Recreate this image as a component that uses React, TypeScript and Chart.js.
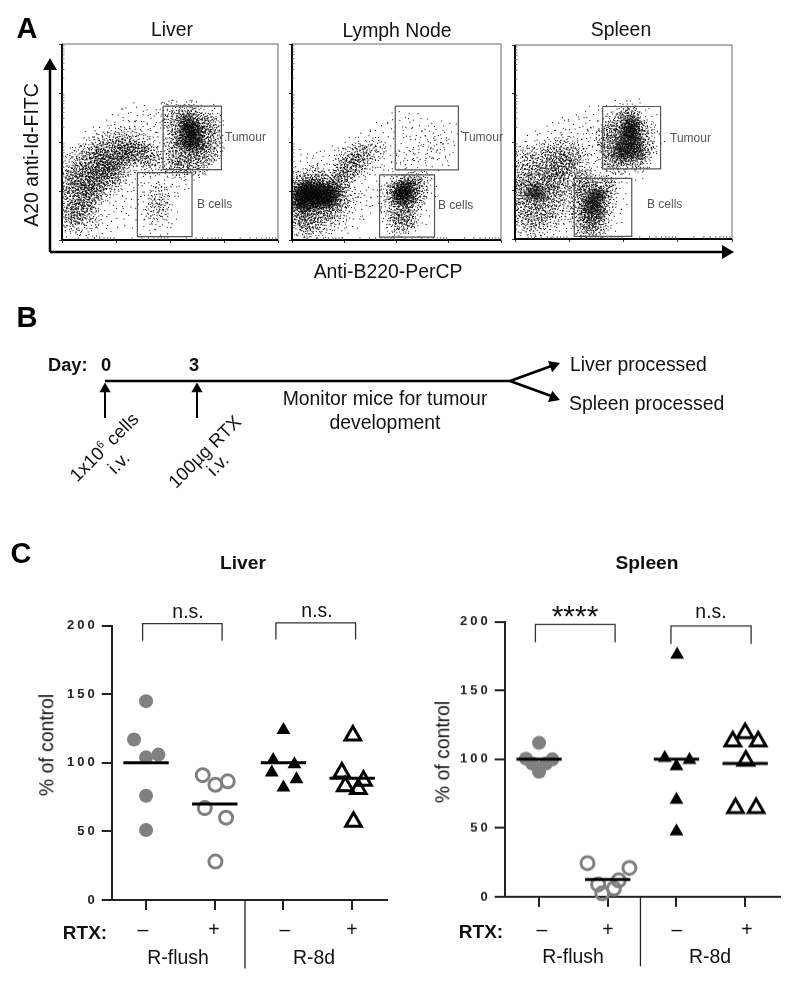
import React, { useEffect, useRef } from "react";
import { Chart, registerables } from "chart.js";

Chart.register(...registerables);

const FONT = '"Liberation Sans", Arial, sans-serif';

// ---------- Panel A: flow cytometry, axes in % of the plot box ----------
const decadeTicks = [0, 25, 50, 75, 100];
const minorTicks = [7.5, 12, 15, 17.5, 19.5, 21, 22.5, 24, 32.5, 37, 40, 42.5, 44.5, 46, 47.5, 49, 57.5, 62, 65, 67.5, 69.5, 71, 72.5, 74, 82.5, 87, 90, 92.5, 94.5, 96, 97.5, 99];

const liverLight = [[4,10],[10,8],[18,8],[25,12],[30,20],[2,38],[7,42],[14,50],[22,55],[28,60],[34,64],[40,60],[32,52],[40,52],[45,58],[45,48],[27,28],[33,34],[38,30],[50,32],[58,36],[70,50],[68,62],[60,65],[50,65],[3,5],[12,3],[42,24],[44,14],[45,8],[47,22],[41,17],[48,12],[38,8],[52,28]];
const liverMid = [[10,15],[14,20],[18,24],[22,28],[26,33],[30,38],[3,12],[5,38],[9,43],[14,47],[19,50],[25,52],[30,52],[36,50],[2,26],[6,8],[13,12],[42,38],[45,22],[44,16],[70,46],[50,38],[50,66],[60,66],[70,60]];
const liverDense = [[3,20],[4,30],[6,14],[7,24],[8,33],[9,18],[10,28],[11,38],[12,22],[13,31],[14,42],[15,26],[16,36],[17,30],[18,40],[19,34],[20,45],[21,37],[23,41],[24,35],[25,46],[27,42],[29,47],[31,44],[34,45],[37,44],[41,43],[52,50],[52,60],[54,44],[56,55],[58,63],[58,40],[60,54],[62,60],[62,46],[64,52],[67,58],[67,44],[69,52],[55,38],[63,38]];
const liverCore = [[58,55],[60,50],[62,55],[58,60],[62,48],[56,50],[60,57]];
const liverGateTumour = [[46.8,68.3],[73.8,68.3],[73.8,35.9],[46.8,35.9],[46.8,68.3]];
const liverGateB = [[34.9,34.4],[60.2,34.4],[60.2,1.7],[34.9,1.7],[34.9,34.4]];

const nodeLight = [[3,3],[8,5],[14,7],[20,6],[27,10],[33,18],[40,22],[30,28],[5,40],[12,38],[20,42],[28,46],[36,50],[43,54],[38,42],[45,42],[52,60],[60,58],[68,52],[74,55],[55,46],[63,44],[70,42],[58,38],[52,8],[55,4],[48,12],[60,14],[64,26],[45,30],[53,40],[65,50],[72,46]];
const nodeMid = [[4,7],[10,6],[16,9],[22,13],[27,22],[25,40],[30,44],[34,38],[40,46],[47,24],[47,16],[62,30],[56,12],[50,7]];
const nodeDense = [[2,14],[2,22],[2,30],[5,12],[6,20],[6,28],[9,10],[10,18],[10,26],[11,32],[14,14],[14,22],[14,29],[18,16],[18,24],[18,30],[22,20],[22,28],[25,32],[26,36],[29,38],[33,43],[50,24],[52,28],[53,20],[55,24],[57,29],[58,20],[52,14],[54,10],[60,25]];
const nodeCore = [[3,20],[5,22],[6,18],[8,24],[6,26],[9,20],[9,26],[12,19],[12,22],[12,25],[15,22],[15,25],[18,20],[18,23],[20,25],[3,24],[53,25],[55,27],[52,22],[55,22]];
const nodeGateTumour = [[49.4,68.3],[79.6,68.3],[79.6,35.8],[49.4,35.8],[49.4,68.3]];
const nodeGateB = [[41.9,33.2],[68.2,33.2],[68.2,1.5],[41.9,1.5],[41.9,33.2]];

const spleenLight = [[3,4],[8,4],[14,3],[20,5],[24,12],[26,22],[3,44],[9,48],[16,52],[22,56],[29,58],[35,62],[30,48],[36,50],[38,42],[32,38],[25,46],[32,28],[42,36],[62,50],[60,62],[40,55],[55,65],[46,65],[46,30],[46,20],[44,10],[32,2],[38,3],[55,36],[44,33]];
const spleenMid = [[4,8],[10,7],[16,10],[21,15],[24,24],[5,42],[11,44],[17,46],[23,48],[28,44],[30,36],[26,32],[30,10],[34,10],[40,10],[42,18],[30,18],[33,26],[42,26],[44,42],[48,39],[58,40],[60,56],[45,60],[52,65],[60,46]];
const spleenDense = [[2,14],[2,24],[3,33],[6,18],[6,28],[7,38],[10,12],[10,22],[11,32],[14,16],[14,26],[15,36],[17,22],[18,32],[20,28],[21,38],[23,36],[25,42],[18,42],[30,24],[31,14],[33,6],[35,24],[36,14],[37,6],[39,20],[41,27],[32,30],[44,48],[46,42],[46,55],[50,44],[50,60],[55,42],[56,56],[59,48],[53,62],[42,52]];
const spleenCore = [[8,24],[11,25],[36,20],[38,22],[35,16],[38,14],[50,50],[53,52],[55,50],[51,55],[54,56],[52,46],[56,45],[49,45],[54,59]];
const spleenGateTumour = [[40.4,68.3],[67.1,68.3],[67.1,36.1],[40.4,36.1],[40.4,68.3]];
const spleenGateB = [[27.3,31.2],[53.8,31.2],[53.8,1.4],[27.3,1.4],[27.3,31.2]];

// speckle stamps: one stamped data point stands for a small group of events
const denseOffsets = [[-1,0],[2,1],[-3,-2],[4,-3],[0,4],[-5,2],[6,0],[1,-5],[-2,6],[3,5],[-6,-4],[7,4],[-7,1],[5,-6],[-4,-7],[0,-8],[8,-2],[-8,5],[2,8],[-3,9],[6,7],[9,2],[-9,-2],[4,-9],[-6,8],[-10,3],[10,-4],[-1,-10],[7,-8],[-8,-7],[3,11],[-4,-11],[11,1],[-11,-1],[9,7],[1,2],[-2,-3],[3,-1],[-1,3],[5,3]];
const lightOffsets = [[-2,1],[3,-4],[6,3],[-7,-3],[0,8],[-4,-9],[9,-7],[-10,5],[11,2],[-12,-5],[5,11],[-6,11],[10,-11],[1,-13]];

// ---------- Panel C: % of control ----------
const liverFlushMinus = [[1,145],[0.825,117],[1,104],[1.18,106],[1,76],[1,51]];
const liverFlushPlus = [[1.825,91],[2.01,84],[2.19,86.5],[1.855,67],[2.165,60],[2.01,28]];
const liver8dMinus = [[3,124],[2.85,102],[3.16,99],[2.83,93],[3.19,88],[3,82]];
const liver8dPlus = [[4.01,120],[3.85,93],[4.165,87],[3.9,83],[4.09,81],[4.02,57]];
const liverMedians = [100, 70, 100, 88.7];
const liverBrackets = [[[0.95,189],[0.95,201.5],[2.107,201.5],[2.107,189]], [[2.89,190],[2.89,202],[4.05,202],[4.05,190]]];
const liverDivider = [[2.44,0],[2.44,-50]];

const spleenFlushMinus = [[1,112],[0.81,100.5],[1.195,100],[0.9,97],[1.1,97],[1,91]];
const spleenFlushPlus = [[1.705,24.5],[2.315,21],[2.16,12],[1.86,9],[2.09,6],[1.92,2.5]];
const spleen8dMinus = [[3.01,176],[2.83,101],[3.19,99.5],[3,95],[3,70.5],[3,47.5]];
const spleen8dPlus = [[4,119],[3.82,113],[4.19,113],[4.01,99],[3.86,64.5],[4.16,64.5]];
const spleenMedians = [100, 12.6, 100, 97];
const spleenBrackets = [[[0.947,185],[0.947,198],[2.107,198],[2.107,185]], [[2.92,184],[2.92,197],[4.087,197],[4.087,184]]];
const spleenDivider = [[2.476,0],[2.476,-50.5]];

const medianHalfWidth = 0.33;
const groupCentres = [1, 2, 3, 4];
const percentTicks = [0, 50, 100, 150, 200];

// ---------- Diagram lines (page units) ----------
const arrowUp = [[50,252],[50,68]];
const arrowRight = [[50,252],[724,252]];
const arrowUpHead = [[50,66]];
const arrowRightHead = [[726,252]];
const timelineMain = [[105,381],[510,381]];
const branchLiver = [[510,381],[554,365]];
const branchSpleen = [[510,381],[554,397]];
const branchLiverHead = [[553.4,365.4]];
const branchSpleenHead = [[553.4,397.6]];
const day0Arrow = [[105,418],[105,392]];
const day3Arrow = [[197,418],[197,392]];
const dayHeads = [[105,389],[197,389]];

const xy = (rows: number[][]) => rows.map(([x, y]) => ({ x, y }));

function makeTile(offsets: number[][], scale: number) {
  const c = document.createElement("canvas");
  c.width = c.height = 30;
  const g = c.getContext("2d")!;
  g.fillStyle = "#000";
  offsets.forEach(([a, b]) => g.fillRect(15 + a * scale, 15 + b * scale, 1, 1));
  return c;
}

const line = (rows: number[][], color: string, width: number, extra: any = {}) => ({
  type: "scatter", data: xy(rows), showLine: true, borderColor: color, borderWidth: width,
  pointRadius: 0, clip: false, borderCapStyle: "butt", borderJoinStyle: "miter", ...extra,
});
const head = (rows: number[][], rotation: number | number[], radius = 7) => ({
  type: "scatter", data: xy(rows), pointStyle: "triangle", pointRadius: radius,
  pointRotation: rotation, backgroundColor: "#000", borderColor: "#000", pointBorderWidth: 0, clip: false,
});

const minorTickPlugin = {
  id: "minorTicks",
  afterDraw(chart: any) {
    const { ctx, chartArea: a, scales } = chart;
    ctx.save();
    ctx.strokeStyle = "#666";
    ctx.lineWidth = 1;
    ctx.strokeRect(a.left, a.top, a.right - a.left, a.bottom - a.top);
    ctx.strokeStyle = "#000";
    ctx.lineWidth = 2;
    ctx.beginPath();
    ctx.moveTo(a.left, a.top); ctx.lineTo(a.left, a.bottom); ctx.lineTo(a.right, a.bottom);
    ctx.stroke();
    ctx.strokeStyle = "#555";
    ctx.lineWidth = 0.8;
    ctx.beginPath();
    minorTicks.forEach((v) => {
      const px = scales.x.getPixelForValue(v), py = scales.y.getPixelForValue(v);
      ctx.moveTo(px, a.bottom); ctx.lineTo(px, a.bottom - 3);
      ctx.moveTo(a.left, py); ctx.lineTo(a.left + 2.5, py);
    });
    ctx.stroke();
    ctx.restore();
  },
};

const spacingPlugin = {
  id: "tickSpacing",
  beforeDraw(chart: any) { chart.ctx.letterSpacing = "3px"; },
};

function flowConfig(light: number[][], mid: number[][], dense: number[][], core: number[][], gates: number[][][], tiles: any) {
  const stampDs = (rows: number[][], tile: any, factor: number) => ({
    type: "scatter", data: xy(rows), pointStyle: tile, pointRadius: 15,
    pointRotation: rows.map((_, i) => (i * factor) % 360),
  });
  return {
    type: "scatter",
    data: {
      datasets: [
        ...gates.map((g) => line(g, "#555", 1.2)),
        stampDs(core, tiles.core, 71), stampDs(core, tiles.core, 143), stampDs(core, tiles.dense, 29),
        stampDs(dense, tiles.dense, 67), stampDs(dense, tiles.dense, 211),
        stampDs(mid, tiles.dense, 113),
        stampDs(light, tiles.light, 97),
      ],
    },
    options: {
      animation: false, responsive: false, events: [],
      layout: { autoPadding: false, padding: { top: 5, right: 5, left: 0, bottom: 0 } },
      plugins: { legend: { display: false }, tooltip: { enabled: false }, title: { display: false } },
      scales: {
        x: {
          type: "linear", min: 0, max: 100,
          afterBuildTicks: (s: any) => { s.ticks = decadeTicks.map((value) => ({ value })); },
          afterFit: (s: any) => { s.height = 10; },
          ticks: { display: false, autoSkip: false },
          grid: { drawOnChartArea: false, tickLength: 3, color: "#333" },
          border: { display: false },
        },
        y: {
          type: "linear", min: 0, max: 100,
          afterBuildTicks: (s: any) => { s.ticks = decadeTicks.map((value) => ({ value })); },
          afterFit: (s: any) => { s.width = 10; },
          ticks: { display: false, autoSkip: false },
          grid: { drawOnChartArea: false, tickLength: 3, color: "#333" },
          border: { display: false },
        },
      },
    },
    plugins: [minorTickPlugin],
  };
}

function percentConfig(a: number[][], b: number[][], c: number[][], d: number[][], medians: number[], brackets: number[][][], divider: number[][], yWidth: number, top: number, right: number) {
  const grey = "#808080";
  return {
    type: "scatter",
    data: {
      datasets: [
        ...medians.map((m, i) => line([[groupCentres[i] - medianHalfWidth, m], [groupCentres[i] + medianHalfWidth, m]], "#000", 3)),
        ...brackets.map((br) => line(br, "#333", 1.3)),
        line(divider, "#222", 1.3),
        { data: xy(a), pointStyle: "circle", pointRadius: 7, backgroundColor: grey, pointBorderWidth: 0, clip: false },
        { data: xy(b), pointStyle: "circle", pointRadius: 6.5, backgroundColor: "rgba(0,0,0,0)", borderColor: grey, pointBorderWidth: 3, clip: false },
        { data: xy(c), pointStyle: "triangle", pointRadius: 8, backgroundColor: "#000", pointBorderWidth: 0, clip: false },
        { data: xy(d), pointStyle: "triangle", pointRadius: 9, backgroundColor: "rgba(0,0,0,0)", borderColor: "#000", pointBorderWidth: 3, clip: false },
      ],
    },
    options: {
      animation: false, responsive: false, events: [],
      layout: { autoPadding: false, padding: { top, right, left: 0, bottom: 0 } },
      plugins: { legend: { display: false }, tooltip: { enabled: false }, title: { display: false } },
      scales: {
        x: {
          type: "linear", min: 0.5, max: 4.5,
          afterBuildTicks: (s: any) => { s.ticks = groupCentres.map((value) => ({ value })); },
          afterFit: (s: any) => { s.height = 80; },
          ticks: { display: false, autoSkip: false },
          grid: { drawOnChartArea: false, tickLength: 10, color: "#222", lineWidth: 2 },
          border: { color: "#222", width: 2 },
        },
        y: {
          type: "linear", min: 0, max: 200,
          afterBuildTicks: (s: any) => { s.ticks = percentTicks.map((value) => ({ value })); },
          afterFit: (s: any) => { s.width = yWidth; },
          ticks: { autoSkip: false, color: "#222", padding: 4, font: { family: FONT, size: 13, weight: "bold" } },
          grid: { drawOnChartArea: false, tickLength: 10, color: "#222", lineWidth: 2 },
          border: { color: "#222", width: 2 },
        },
      },
    },
    plugins: [spacingPlugin],
  };
}

function diagramConfig() {
  return {
    type: "scatter",
    data: {
      datasets: [
        line(arrowUp, "#000", 2.5), line(arrowRight, "#000", 2.5),
        head(arrowUpHead, 0, 8), head(arrowRightHead, 90, 8),
        line(timelineMain, "#000", 2.5), line(branchLiver, "#000", 2.5), line(branchSpleen, "#000", 2.5),
        head(branchLiverHead, 70, 7), head(branchSpleenHead, 110, 7),
        line(day0Arrow, "#000", 2), line(day3Arrow, "#000", 2), head(dayHeads, 0, 6.5),
      ],
    },
    options: {
      animation: false, responsive: false, events: [],
      layout: { autoPadding: false, padding: 0 },
      plugins: { legend: { display: false }, tooltip: { enabled: false }, title: { display: false } },
      scales: {
        x: { type: "linear", min: 0, max: 800, display: false },
        y: { type: "linear", min: 0, max: 989, reverse: true, display: false },
      },
    },
  };
}

const T = ({ x, y, size = 19.4, bold = false, color = "#111", rotate = 0, align = "center", children }: any) => (
  <div
    style={{
      position: "absolute", left: x, top: y, whiteSpace: "nowrap", fontFamily: FONT, fontSize: size,
      fontWeight: bold ? 700 : 400, color, lineHeight: 1,
      transform: `translate(${align === "left" ? "0" : "-50%"},-50%) rotate(${rotate}deg)`,
    }}
  >
    {children}
  </div>
);

const canvasStyle = (left: number, top: number, w: number, h: number): React.CSSProperties => ({
  position: "absolute", left, top, width: w, height: h, display: "block",
});

// left, top, width, height of each canvas on the page
const flowBoxes = [
  [51.7, 38.5, 231.3, 211.5],
  [281.7, 38.5, 224.3, 211.5],
  [504.7, 40, 232, 209],
];
const pctBoxes = [
  [0, 600, 400, 380],
  [393, 596, 400, 380.7],
];

export default function App() {
  const diagram = useRef<HTMLCanvasElement>(null);
  const flow = [useRef<HTMLCanvasElement>(null), useRef<HTMLCanvasElement>(null), useRef<HTMLCanvasElement>(null)];
  const pct = [useRef<HTMLCanvasElement>(null), useRef<HTMLCanvasElement>(null)];

  useEffect(() => {
    const tiles = { dense: makeTile(denseOffsets, 1), core: makeTile(denseOffsets, 0.7), light: makeTile(lightOffsets, 1) };
    const charts: Chart[] = [];
    charts.push(new Chart(diagram.current!, diagramConfig() as any));
    const flowData = [
      [liverLight, liverMid, liverDense, liverCore, [liverGateTumour, liverGateB]],
      [nodeLight, nodeMid, nodeDense, nodeCore, [nodeGateTumour, nodeGateB]],
      [spleenLight, spleenMid, spleenDense, spleenCore, [spleenGateTumour, spleenGateB]],
    ] as any[];
    flow.forEach((r, i) => {
      const [l, m, de, co, ga] = flowData[i];
      charts.push(new Chart(r.current!, flowConfig(l, m, de, co, ga, tiles) as any));
    });
    charts.push(new Chart(pct[0].current!, percentConfig(liverFlushMinus, liverFlushPlus, liver8dMinus, liver8dPlus, liverMedians, liverBrackets, liverDivider, 111.7, 25.7, 13.5) as any));
    charts.push(new Chart(pct[1].current!, percentConfig(spleenFlushMinus, spleenFlushPlus, spleen8dMinus, spleen8dPlus, spleenMedians, spleenBrackets, spleenDivider, 111.7, 25.7, 13.5) as any));
    return () => charts.forEach((c) => c.destroy());
  }, []);

  return (
    <div style={{ position: "absolute", left: 0, top: 0, width: 800, height: 989, overflow: "hidden", background: "#fff" }}>
      <canvas ref={diagram} width={800} height={989} style={canvasStyle(0, 0, 800, 989)} />
      {flow.map((r, i) => {
        const [l, t, w, h] = flowBoxes[i];
        return <canvas key={i} ref={r} width={w} height={h} style={canvasStyle(l, t, w, h)} />;
      })}
      {pct.map((r, i) => {
        const [l, t, w, h] = pctBoxes[i];
        return <canvas key={i} ref={r} width={w} height={h} style={canvasStyle(l, t, w, h)} />;
      })}

      <T x={27} y={28} size={29} bold color="#000">A</T>
      <T x={172} y={30}>Liver</T>
      <T x={397} y={31}>Lymph Node</T>
      <T x={621} y={30}>Spleen</T>
      <T x={32} y={155} rotate={-90}>A20 anti-Id-FITC</T>
      <T x={388} y={272}>Anti-B220-PerCP</T>
      <T x={225} y={137} size={12} color="#555" align="left">Tumour</T>
      <T x={197} y={204} size={12} color="#555" align="left">B cells</T>
      <T x={462} y={137} size={12} color="#555" align="left">Tumour</T>
      <T x={438} y={205} size={12} color="#555" align="left">B cells</T>
      <T x={670} y={138} size={12} color="#555" align="left">Tumour</T>
      <T x={647} y={204} size={12} color="#555" align="left">B cells</T>

      <T x={27} y={317} size={29} bold color="#000">B</T>
      <T x={48} y={365} size={18.3} bold align="left">Day:</T>
      <T x={106} y={365} size={18.3} bold>0</T>
      <T x={194} y={365} size={18.3} bold>3</T>
      <T x={570} y={365} align="left">Liver processed</T>
      <T x={569} y={404} align="left">Spleen processed</T>
      <T x={385} y={399}>Monitor mice for tumour</T>
      <T x={385} y={423}>development</T>
      <T x={104} y={447} size={18.5} rotate={-45}>1x10<sup style={{ fontSize: 11 }}>6</sup> cells</T>
      <T x={119} y={463} size={18.5} rotate={-45}>i.v.</T>
      <T x={205} y={452} size={18.5} rotate={-45}>100µg RTX</T>
      <T x={218} y={465} size={18.5} rotate={-45}>i.v.</T>

      <T x={21} y={553} size={29} bold color="#000">C</T>
      <T x={243} y={563} size={19.2} bold>Liver</T>
      <T x={647} y={563} size={19.2} bold>Spleen</T>
      <T x={188} y={612}>n.s.</T>
      <T x={317} y={611}>n.s.</T>
      <T x={575} y={616} size={30}>****</T>
      <T x={711} y={612}>n.s.</T>
      <T x={47} y={745} rotate={-90}>% of control</T>
      <T x={443} y={752} rotate={-90}>% of control</T>
      <T x={85} y={932} size={19} bold>RTX:</T>
      <T x={143} y={930}>–</T>
      <T x={214} y={930}>+</T>
      <T x={285} y={930}>–</T>
      <T x={352} y={930}>+</T>
      <T x={178} y={958}>R-flush</T>
      <T x={314} y={958}>R-8d</T>
      <T x={481} y={931} size={19} bold>RTX:</T>
      <T x={542} y={930}>–</T>
      <T x={608} y={930}>+</T>
      <T x={677} y={930}>–</T>
      <T x={747} y={930}>+</T>
      <T x={573} y={957}>R-flush</T>
      <T x={710} y={957}>R-8d</T>
    </div>
  );
}
